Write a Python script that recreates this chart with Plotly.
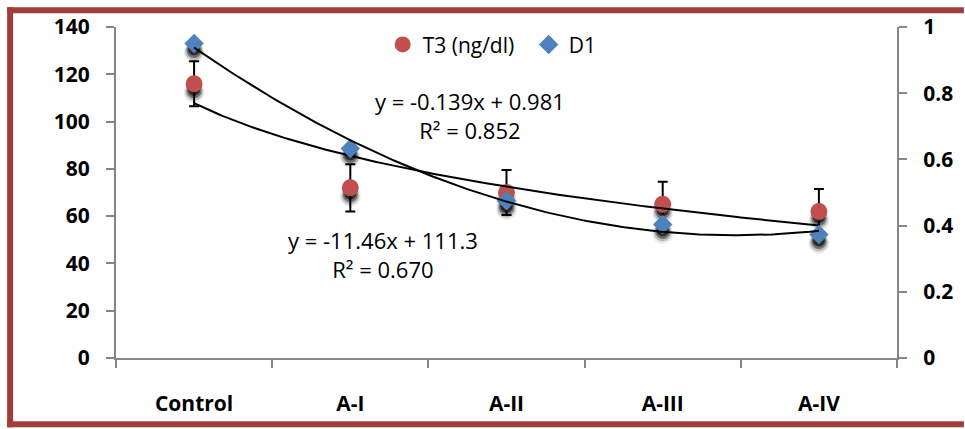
import numpy as np
import plotly.graph_objects as go

# ---------------- data ----------------
categories = ["Control", "A-I", "A-II", "A-III", "A-IV"]
t3_values = [116, 72, 70, 65, 62]          # T3 (ng/dl), left axis
t3_errors = [9.5, 10, 9.5, 9.5, 9.5]
d1_values = [0.95, 0.633, 0.475, 0.403, 0.373]  # D1, right axis
left_ticks = [0, 20, 40, 60, 80, 100, 120, 140]
right_ticks = [0, 0.2, 0.4, 0.6, 0.8, 1]
right_tick_text = ["0", "0.2", "0.4", "0.6", "0.8", "1"]
eq_d1 = ["y = -0.139x + 0.981", "R² = 0.852"]
eq_t3 = ["y = -11.46x + 111.3", "R² = 0.670"]

# ---------------- layout constants (pixels) ----------------
W, H = 965, 429
L, R, T, B = 116, 898, 27, 362
PW, PH = R - L, B - T
MAROON = "#A23D3B"
AXIS = "#868686"
RED = "#C0504D"
BLUE = "#4F81BD"
FONT = "Open Sans"


def px_x(x):
    return (x - L) / PW


def px_y(y):
    return (B - y) / PH


xs = np.arange(1, len(categories) + 1)
left_max, right_max = left_ticks[-1], right_ticks[-1]
left_unit = left_max / PH   # data units per pixel
right_unit = right_max / PH

# trendlines computed from data
xf = np.linspace(xs[0], xs[-1], 200)
a_log, b_log = np.polyfit(np.log(xs), t3_values, 1)
t3_fit = a_log * np.log(xf) + b_log
d1_coef = np.polyfit(xs, d1_values, 2)
d1_fit = np.polyval(d1_coef, xf)

fig = go.Figure()

# soft drop shadows beneath markers
for off, size, alpha in [(9, 21, 0.08), (8, 18, 0.2), (7, 15, 0.4), (6, 12, 0.6)]:
    fig.add_trace(go.Scatter(
        x=xs, y=np.array(t3_values) - off * left_unit, mode="markers",
        marker=dict(symbol="circle", size=size, color=f"rgba(0,0,0,{alpha})"),
        showlegend=False, hoverinfo="skip", yaxis="y"))
    fig.add_trace(go.Scatter(
        x=xs, y=np.array(d1_values) - off * right_unit, mode="markers",
        marker=dict(symbol="circle", size=size, color=f"rgba(0,0,0,{alpha})"),
        showlegend=False, hoverinfo="skip", yaxis="y2"))

fig.add_trace(go.Scatter(
    x=xs, y=t3_values, mode="markers", name="T3 (ng/dl)",
    marker=dict(symbol="circle", size=17, color=RED),
    error_y=dict(type="data", array=t3_errors, visible=True,
                 color="black", thickness=2, width=5),
    yaxis="y"))
fig.add_trace(go.Scatter(
    x=xs, y=d1_values, mode="markers", name="D1",
    marker=dict(symbol="diamond", size=15, color=BLUE),
    yaxis="y2"))

fig.add_trace(go.Scatter(
    x=xf, y=t3_fit, mode="lines", line=dict(color="black", width=2),
    showlegend=False, hoverinfo="skip", yaxis="y"))
fig.add_trace(go.Scatter(
    x=xf, y=d1_fit, mode="lines", line=dict(color="black", width=2),
    showlegend=False, hoverinfo="skip", yaxis="y2"))

tickfont = dict(family=FONT, size=21, color="black", weight="bold")

fig.update_layout(
    width=W, height=H,
    margin=dict(l=L, r=W - R, t=T, b=H - B, pad=0),
    paper_bgcolor="white", plot_bgcolor="white",
    font=dict(family=FONT, color="black"),
    xaxis=dict(
        range=[0.5, len(categories) + 0.5], tickmode="array",
        tickvals=xs, ticktext=categories, ticks="",
        showline=True, linecolor=AXIS, linewidth=2, showgrid=False,
        zeroline=False, tickfont=tickfont, ticklabelstandoff=26,
        minor=dict(tickmode="array",
                   tickvals=list(np.arange(0.5, len(categories) + 1, 1)),
                   ticks="outside", ticklen=8, tickcolor=AXIS, tickwidth=1.5,
                   showgrid=False)),
    yaxis=dict(
        range=[0, left_max], tickmode="array", tickvals=left_ticks,
        ticks="outside", ticklen=8, tickcolor=AXIS, tickwidth=1.5,
        showline=True, linecolor=AXIS, linewidth=2, showgrid=False,
        zeroline=False, tickfont=tickfont, ticklabelstandoff=12),
    yaxis2=dict(
        range=[0, right_max], tickmode="array", tickvals=right_ticks,
        ticktext=right_tick_text, overlaying="y", side="right",
        ticks="outside", ticklen=8, tickcolor=AXIS, tickwidth=1.5,
        showline=True, linecolor=AXIS, linewidth=2, showgrid=False,
        zeroline=False, tickfont=tickfont, ticklabelstandoff=12),
    legend=dict(orientation="h", x=px_x(383), xanchor="left",
                y=px_y(45), yanchor="middle",
                font=dict(family=FONT, size=21, color="black"),
                bgcolor="rgba(0,0,0,0)", itemwidth=30, tracegroupgap=0,
                entrywidth=101, entrywidthmode="pixels"),
    showlegend=True,
)

fig.add_annotation(text="<br>".join(eq_d1), xref="paper", yref="paper",
                   x=px_x(470), y=px_y(117), xanchor="center", yanchor="middle",
                   showarrow=False, align="center",
                   font=dict(family=FONT, size=22, color="black"))
fig.add_annotation(text="<br>".join(eq_t3), xref="paper", yref="paper",
                   x=px_x(383), y=px_y(257), xanchor="center", yanchor="middle",
                   showarrow=False, align="center",
                   font=dict(family=FONT, size=22, color="black"))

# outer maroon frame: left, top and bottom edges (right edge is cropped off)
frame = dict(color=MAROON, width=6)
fig.add_shape(type="line", xref="paper", yref="paper",
              x0=px_x(10), x1=px_x(10), y0=px_y(432), y1=px_y(7), line=frame)
fig.add_shape(type="line", xref="paper", yref="paper",
              x0=px_x(7), x1=px_x(W), y0=px_y(10), y1=px_y(10), line=frame)
fig.add_shape(type="line", xref="paper", yref="paper",
              x0=px_x(7), x1=px_x(W), y0=px_y(429), y1=px_y(429), line=frame)

fig.write_html(
    "out.html",
    config={"displayModeBar": False},
    post_script="document.body.style.margin='0px';"
                "document.body.style.overflow='hidden';",
)
